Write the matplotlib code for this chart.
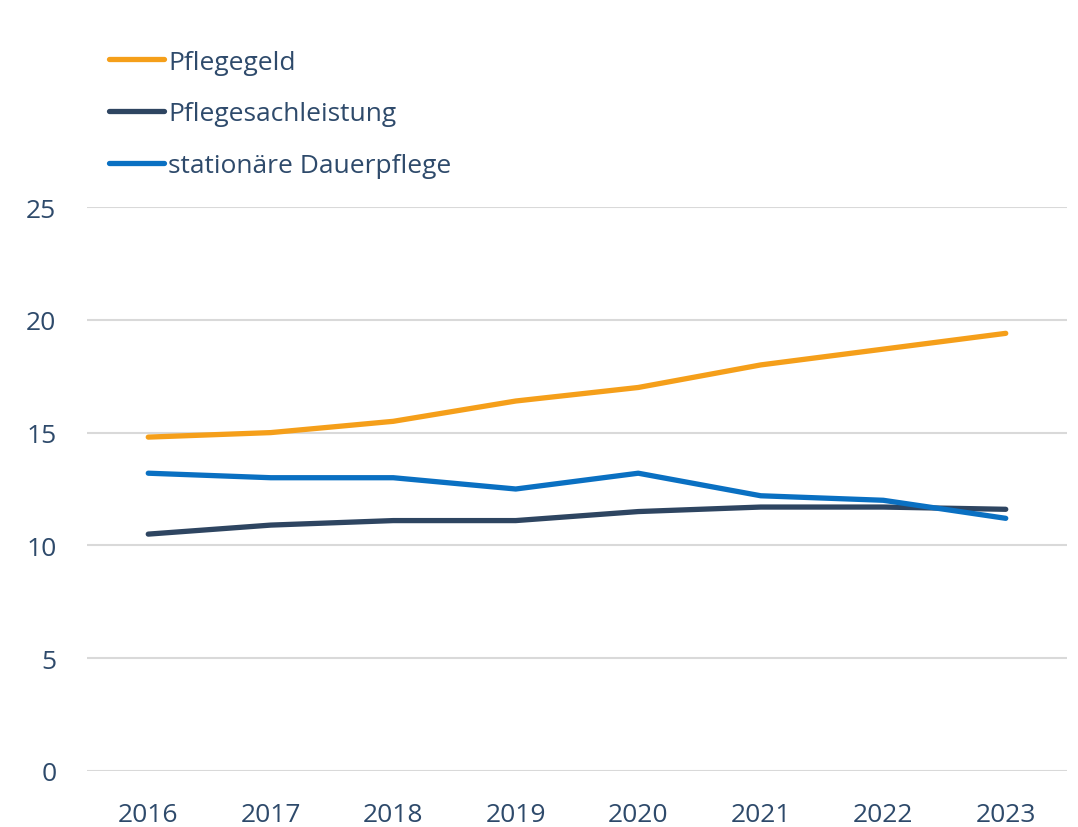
import matplotlib.pyplot as plt

years = ['2016', '2017', '2018', '2019', '2020', '2021', '2022', '2023']
pflegegeld = [14.8, 15.0, 15.5, 16.4, 17.0, 18.0, 18.7, 19.4]
sachleistung = [10.5, 10.9, 11.1, 11.1, 11.5, 11.7, 11.7, 11.6]
stationaer = [13.2, 13.0, 13.0, 12.5, 13.2, 12.2, 12.0, 11.2]

text_color = '#2E4A6B'
plt.rcParams['font.family'] = ['Open Sans', 'DejaVu Sans']

fig = plt.figure(figsize=(10.78, 8.28), dpi=100)
ax = fig.add_axes([87 / 1078, 56 / 828, 980 / 1078, 564 / 828])

x = range(len(years))
ax.plot(x, pflegegeld, color='#F59F1A', lw=3.8, solid_capstyle='round', label='Pflegegeld')
ax.plot(x, sachleistung, color='#2E4561', lw=3.8, solid_capstyle='round', label='Pflegesachleistung')
ax.plot(x, stationaer, color='#0A70C2', lw=3.8, solid_capstyle='round', label='stationäre Dauerpflege')

ax.set_xlim(-0.5, 7.5)
ax.set_ylim(0, 25)
ax.set_yticks([0, 5, 10, 15, 20, 25])
ax.set_xticks(list(x))
ax.set_xticklabels(years)
ax.grid(axis='y', color='#D9D9D9', lw=1.5)
ax.set_axisbelow(True)
for s in ax.spines.values():
    s.set_visible(False)
ax.tick_params(length=0, colors=text_color, labelsize=19)
ax.tick_params(axis='y', pad=22)
ax.tick_params(axis='x', pad=22)

leg = fig.legend(loc='upper left', bbox_to_anchor=(98 / 1078, 1 - 40 / 828), frameon=False,
                 fontsize=19, handlelength=2.1, handletextpad=0.15, labelspacing=1.02,
                 borderaxespad=0)
for t in leg.get_texts():
    t.set_color(text_color)

fig.savefig('out.png', dpi=100)
